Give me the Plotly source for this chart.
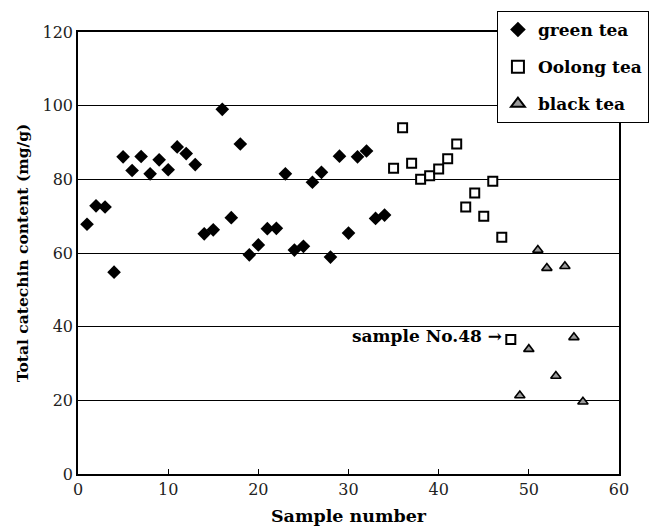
import plotly.graph_objects as go

green_x = list(range(1, 35))
green_y = [67.8, 72.8, 72.5, 54.8, 86.1, 82.4, 86.2, 81.5, 85.3, 82.6,
           88.8, 87.0, 84.0, 65.2, 66.3, 99.0, 69.6, 89.6, 59.5, 62.2,
           66.6, 66.7, 81.5, 60.8, 61.8, 79.2, 81.9, 58.9, 86.3, 65.4,
           86.1, 87.7, 69.4, 70.3]
oolong_x = list(range(35, 49))
oolong_y = [83.0, 94.0, 84.4, 80.0, 81.0, 82.8, 85.6, 89.6, 72.5, 76.3,
            70.0, 79.5, 64.3, 36.5]
black_x = list(range(49, 57))
black_y = [21.3, 33.9, 60.8, 55.9, 26.6, 56.4, 37.1, 19.6]

note_text = "sample No.48 \u2192"
note_x, note_y = 47.2, 37.6

serif = "DejaVu Serif"

fig = go.Figure()
fig.add_trace(go.Scatter(x=green_x, y=green_y, mode="markers", name="green tea",
                         legendgroup="g",
                         marker=dict(symbol="diamond", size=10.5, color="black",
                                     line=dict(width=0))))
fig.add_trace(go.Scatter(x=oolong_x, y=oolong_y, mode="markers", name="Oolong tea",
                         legendgroup="o",
                         marker=dict(symbol="square", size=9, color="white",
                                     line=dict(width=2, color="black"))))
fig.add_trace(go.Scatter(x=black_x, y=black_y, mode="markers", name="black tea",
                         legendgroup="b",
                         marker=dict(symbol="triangle-up", size=9, color="#9a9a9a",
                                     line=dict(width=1.6, color="black"))))

fig.add_annotation(x=note_x, y=note_y, text=note_text, showarrow=False,
                   xanchor="right", yanchor="middle",
                   font=dict(family=serif, size=17, color="black", weight="bold"))

fig.update_layout(
    width=649, height=530,
    margin=dict(l=78, r=30, t=32, b=56, autoexpand=False),
    paper_bgcolor="white", plot_bgcolor="white",
    font=dict(family=serif, color="black"),
    legend=dict(x=0.774, y=1.048, xanchor="left", yanchor="top",
                bgcolor="white", bordercolor="black", borderwidth=1.2,
                font=dict(family=serif, size=17, color="black", weight="bold"),
                traceorder="grouped", tracegroupgap=12, itemsizing="constant",
                itemwidth=30),
    showlegend=True,
)
fig.update_xaxes(range=[0, 60], dtick=10, showline=True, mirror=True,
                 linecolor="black", linewidth=1.5, ticks="inside", ticklen=5,
                 tickcolor="black", showgrid=False, zeroline=False,
                 tickfont=dict(family=serif, size=16, color="#222"),
                 title=dict(text="Sample number", standoff=12,
                            font=dict(family=serif, size=17.5, weight="bold")))
fig.update_yaxes(range=[0, 120], dtick=20, showline=True, mirror=True,
                 linecolor="black", linewidth=1.5, ticks="", showgrid=True,
                 gridcolor="black", gridwidth=1.2, zeroline=False,
                 tickfont=dict(family=serif, size=16, color="#222"),
                 title=dict(text="Total catechin content (mg/g)", standoff=10,
                            font=dict(family=serif, size=15.5, weight="bold")))

fig.write_html("out.html",
               config={"displayModeBar": False},
               post_script="document.body.style.margin='0';"
                           "document.body.style.overflow='hidden';")
